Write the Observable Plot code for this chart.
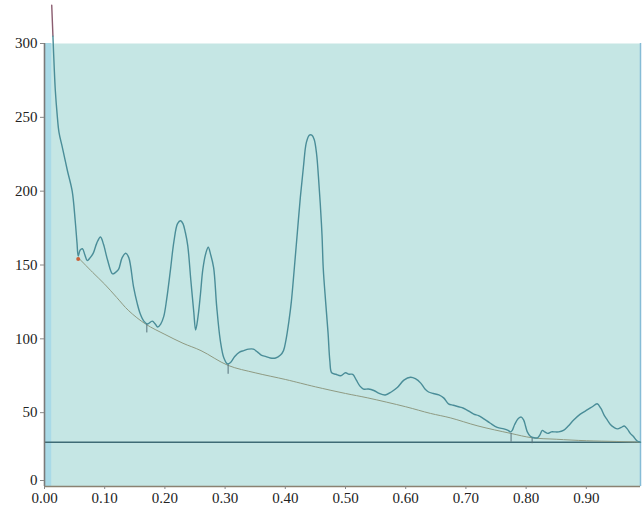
<!DOCTYPE html>
<html>
<head>
<meta charset="utf-8">
<script src="https://cdn.jsdelivr.net/npm/d3@7"></script>
<script src="https://cdn.jsdelivr.net/npm/@observablehq/plot@0.6"></script>
<style>
  html, body { margin: 0; padding: 0; background: #fff; }
  #chart { width: 642px; height: 507px; }
</style>
</head>
<body>
<div id="chart"></div>
<script>
// Measured spectrum: [position, intensity]
const spectrum = [
  [0.012,326],[0.014,305],[0.016,285],[0.018,268],[0.021,252],[0.024,240],[0.03,229],[0.038,214],
  [0.046,200],[0.051,180],[0.054,165],[0.056,156],[0.059,160],[0.063,161],[0.067,157],[0.071,153],
  [0.076,155],[0.081,158],[0.087,165],[0.093,169],[0.098,164],[0.105,153],[0.113,144],[0.118,145],
  [0.123,147],[0.129,155],[0.135,158],[0.14,155],[0.148,135],[0.154,124],[0.159,117],[0.165,112],
  [0.171,110],[0.179,112],[0.184,110],[0.188,108],[0.193,110],[0.198,115],[0.203,127],[0.209,146],
  [0.215,166],[0.221,178],[0.226,180],[0.23,178],[0.234,172],[0.238,163],[0.243,140],[0.248,118],
  [0.251,106],[0.255,115],[0.259,130],[0.263,147],[0.268,158],[0.272,162],[0.276,157],[0.281,148],
  [0.286,122],[0.292,99],[0.298,87],[0.304,83],[0.309,84],[0.316,88],[0.324,91],[0.331,92],
  [0.339,93],[0.347,93],[0.354,91],[0.36,89],[0.368,88],[0.375,87],[0.384,87],[0.392,89],
  [0.397,92],[0.401,99],[0.406,112],[0.41,125],[0.415,148],[0.42,172],[0.425,196],[0.43,216],
  [0.435,233],[0.44,238],[0.444,238],[0.448,235],[0.452,225],[0.455,210],[0.458,192],[0.461,170],
  [0.463,148],[0.467,125],[0.471,104],[0.474,85],[0.477,77],[0.484,76],[0.492,75],[0.5,77],
  [0.506,76],[0.512,76],[0.518,72],[0.524,68],[0.53,66],[0.538,66],[0.547,65],[0.556,63],
  [0.566,62],[0.576,64],[0.586,67],[0.597,72],[0.608,74],[0.616,73],[0.625,70],[0.632,66],
  [0.638,64],[0.646,63],[0.655,62],[0.663,60],[0.671,56],[0.679,55],[0.688,54],[0.696,53],
  [0.705,51],[0.713,49],[0.721,48],[0.729,46],[0.74,43],[0.752,40],[0.763,39],[0.77,38],
  [0.774,37],[0.777,38],[0.781,42],[0.787,46],[0.792,47],[0.796,45],[0.799,41],[0.802,37],
  [0.807,34],[0.813,33],[0.819,33],[0.823,35],[0.827,38],[0.831,37],[0.836,36],[0.842,37],
  [0.846,37],[0.854,37],[0.862,38],[0.87,41],[0.879,45],[0.89,49],[0.902,52],[0.91,54],
  [0.918,56],[0.924,53],[0.93,48],[0.935,45],[0.94,42],[0.946,40],[0.952,39],[0.958,40],
  [0.963,41],[0.968,39],[0.973,36],[0.978,34],[0.984,31],[0.99,30]
];

// Fitted background curve under the peaks
const baseline = [
  [0.056,155],[0.08,145],[0.1,137],[0.12,128],[0.14,119],[0.168,110],[0.2,103],[0.23,97],
  [0.26,92],[0.305,82],[0.35,77],[0.4,72.5],[0.425,70],[0.45,67.5],[0.5,63],[0.537,60],
  [0.6,54],[0.641,49.5],[0.674,46.5],[0.72,41],[0.774,36],[0.81,33],[0.85,32],[0.9,31],
  [0.95,30.5],[0.99,30]
];

// Anchor points of the background fit
const anchorX = [0.17, 0.305, 0.775, 0.81];
const anchorTop = [110, 83, 36, 33];
const anchorBottom = [104, 76, 30, 29];
const startPoint = [[0.056, 154]];

const floorLevel = [30];
const xTicks = [0, 0.1, 0.2, 0.3, 0.4, 0.5, 0.6, 0.7, 0.8, 0.9];
const yTicks = [0, 50, 100, 150, 200, 250, 300];

const serif = "'Liberation Serif', 'Times New Roman', 'DejaVu Serif', serif";

const spec = spectrum.map(([x, y]) => ({x, y}));
const base = baseline.map(([x, y]) => ({x, y}));
const anchors = anchorX.map((x, i) => ({x, y1: anchorTop[i], y2: anchorBottom[i]}));

const chart = Plot.plot({
  width: 642,
  height: 507,
  marginLeft: 44,
  marginRight: 2,
  marginTop: 43,
  marginBottom: 21,
  style: {fontFamily: serif, fontSize: "15px", color: "#222", background: "#fff"},
  x: {domain: [0, 0.99], label: null},
  y: {domain: [0, 300], label: null},
  marks: [
    Plot.frame({fill: "#c5e6e4", stroke: "none"}),
    Plot.rect([0], {x1: 0, x2: 0.012, y1: 0, y2: 300, fill: "#a9dae7"}),
    Plot.ruleX([0.99], {y1: 0, y2: 300, stroke: "#86bcd6", strokeWidth: 1.5}),
    Plot.ruleY(floorLevel, {stroke: "#3e6b75", strokeWidth: 1.6}),
    Plot.line(base, {x: "x", y: "y", stroke: "#8f9a82", strokeWidth: 1, curve: "catmull-rom"}),
    Plot.ruleX(anchors, {x: "x", y1: "y1", y2: "y2", stroke: "#55707a", strokeWidth: 1}),
    Plot.line(spec.filter(d => d.y >= 300 || d.x <= 0.014), {x: "x", y: "y", stroke: "#8b5d70", strokeWidth: 1.4}),
    Plot.line(spec.filter(d => d.x >= 0.014), {x: "x", y: "y", stroke: "#4a8d98", strokeWidth: 1.4, curve: "catmull-rom"}),
    Plot.dot(startPoint, {x: d => d[0], y: d => d[1], r: 2, fill: "#c9623a", stroke: "none"}),
    Plot.ruleX([0], {y1: 0, y2: 300, stroke: "#7a7a7a", strokeWidth: 1.6}),
    Plot.ruleY([0], {x1: 0, x2: 0.99, stroke: "#8a8272", strokeWidth: 1.4}),
    Plot.axisX({ticks: xTicks, tickFormat: d3.format(".2f"), tickSize: 3, tickPadding: 3, stroke: "#888", label: null, fontSize: 15}),
    Plot.axisY({ticks: yTicks.filter(v => v > 0), tickSize: 4, tickPadding: 3, stroke: "#888", label: null, fontSize: 15}),
    Plot.axisY({ticks: [yTicks[0]], tickSize: 4, tickPadding: 3, stroke: "#888", dy: -6, label: null, fontSize: 15})
  ]
});

// Serif tick labels throughout
d3.select(chart).selectAll("text")
  .style("font-family", serif)
  .attr("fill", "#222");

document.getElementById("chart").appendChild(chart);
</script>
</body>
</html>
